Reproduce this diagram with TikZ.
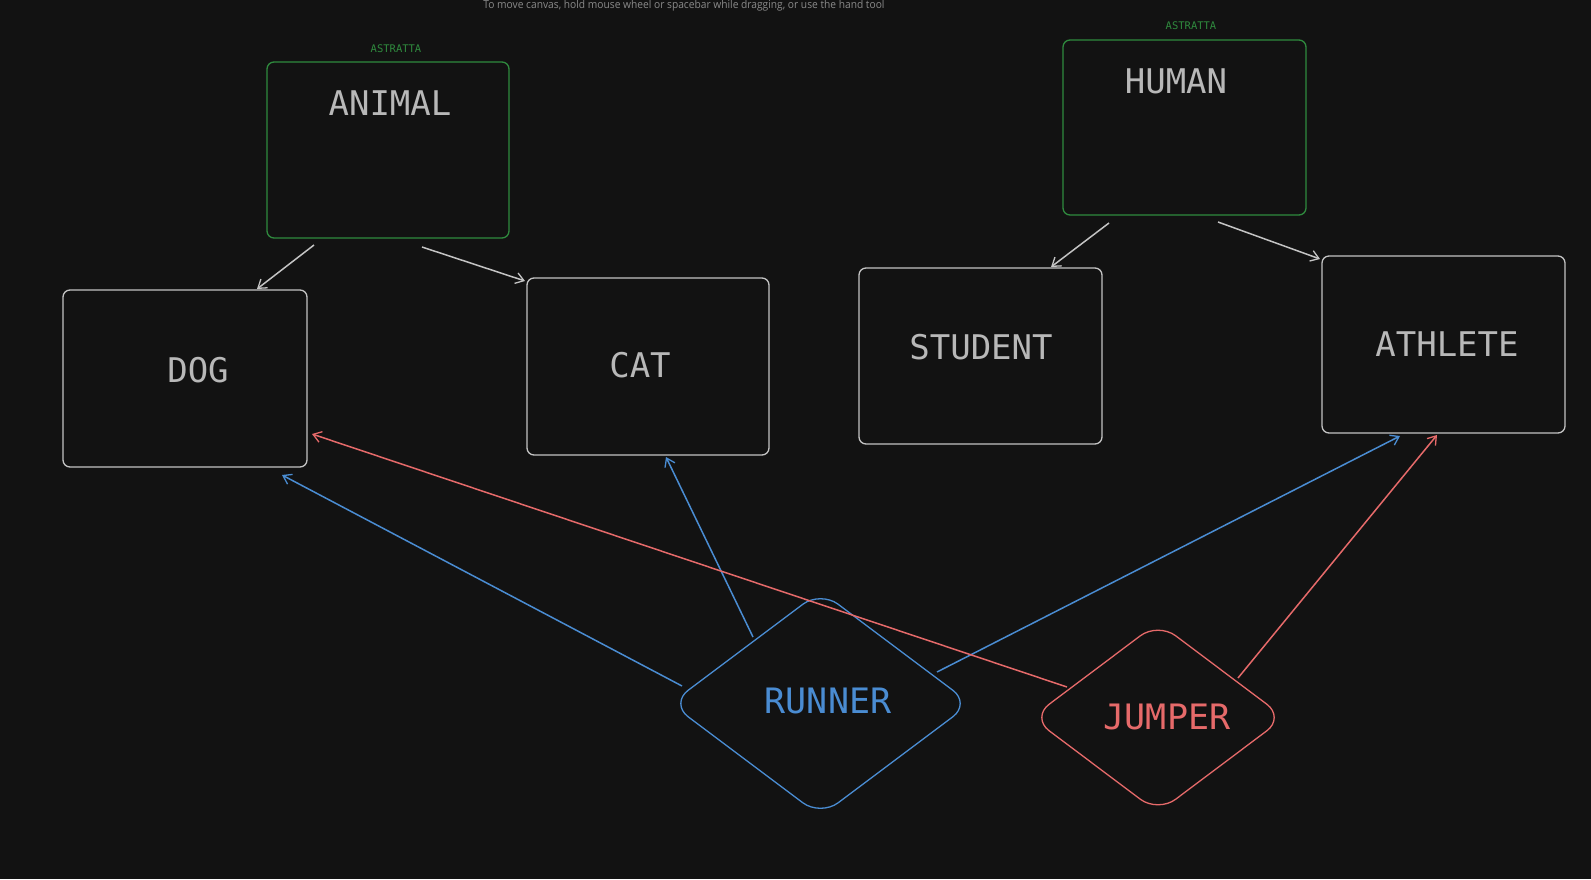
\documentclass[tikz,border=0pt]{standalone}
\usepackage{fontspec}
\newfontfamily\monofam{DejaVu Sans Mono}
\newfontfamily\hintfam{Open Sans}
\usetikzlibrary{shapes.geometric,arrows.meta}
\definecolor{bg}{HTML}{121212}
\definecolor{boxgray}{HTML}{C4C4C4}
\definecolor{txtgray}{HTML}{B8B8B8}
\definecolor{grn}{HTML}{2F8A3E}
\definecolor{blu}{HTML}{4A8CD2}
\definecolor{rd}{HTML}{E66A6A}
\definecolor{hintgray}{HTML}{8A8A8A}
\tikzset{
  box/.style={draw=boxgray, line width=1.3pt, rectangle, rounded corners=7pt, inner sep=0pt, outer sep=0pt},
  absbox/.style={box, draw=grn},
  lbl/.style={text=txtgray, font=\monofam\fontsize{34}{34}\selectfont, inner sep=0pt},
  tag/.style={text=grn, font=\monofam\fontsize{10.5}{10.5}\selectfont, inner sep=0pt},
  dia/.style={diamond, draw, line width=1.3pt, rounded corners=22pt, inner sep=0pt, outer sep=0pt},
  arr/.style={line width=1.5pt, -{Straight Barb[length=8pt,width=11pt,line width=1.3pt]}},
}
\begin{document}
\begin{tikzpicture}[x=1pt,y=-1pt]
\fill[bg] (0,0) rectangle (1591,879);
\useasboundingbox (0,0) rectangle (1591,879);

\node[text=hintgray, font=\hintfam\fontsize{11}{11}\selectfont, anchor=base, xscale=0.93, inner sep=0pt] (hint) at (684,8) {To move canvas, hold mouse wheel or spacebar while dragging, or use the hand tool};

% boxes
\node[absbox, minimum width=242pt, minimum height=176pt] (animal) at (388,150) {};
\node[absbox, minimum width=243pt, minimum height=175pt] (human) at (1184.5,127.5) {};
\node[box, minimum width=244pt, minimum height=177pt] (dog) at (185,378.5) {};
\node[box, minimum width=242pt, minimum height=177pt] (cat) at (648,366.5) {};
\node[box, minimum width=243pt, minimum height=176pt] (student) at (980.5,356) {};
\node[box, minimum width=243pt, minimum height=177pt] (athlete) at (1443.5,344.5) {};

% diamonds
\node[dia, draw=blu, minimum width=300pt, minimum height=225pt] (runner) at (820.5,703.5) {};
\node[dia, draw=rd, minimum width=253pt, minimum height=190pt] (jumper) at (1158,717.5) {};

% texts
\node[tag] (tag1) at (396,49) {ASTRATTA};
\node[tag] (tag2) at (1191,26) {ASTRATTA};
\node[lbl] (tanimal) at (390,103) {ANIMAL};
\node[lbl] (thuman) at (1176,81) {HUMAN};
\node[lbl] (tdog) at (198,370) {DOG};
\node[lbl] (tcat) at (640,365) {CAT};
\node[lbl] (tstudent) at (981,347) {STUDENT};
\node[lbl] (tathlete) at (1447,344) {ATHLETE};
\node[lbl, text=blu, font=\monofam\fontsize{35}{35}\selectfont] (trunner) at (828,701) {RUNNER};
\node[lbl, text=rd, font=\monofam\fontsize{35}{35}\selectfont] (tjumper) at (1167,717) {JUMPER};

% gray arrows
\draw[arr, boxgray] ([xshift=-74pt,yshift=-7pt]animal.south) -- ([xshift=72pt,yshift=1pt]dog.north);
\draw[arr, boxgray] ([xshift=34pt,yshift=-9pt]animal.south) -- ([xshift=-2pt,yshift=-3pt]cat.north west);
\draw[arr, boxgray] ([xshift=-75.5pt,yshift=-8pt]human.south) -- ([xshift=70.5pt,yshift=1pt]student.north);
\draw[arr, boxgray] ([xshift=33.5pt,yshift=-7pt]human.south) -- ([xshift=-2pt,yshift=-3pt]athlete.north west);

% blue arrows
\draw[arr, blu] ([xshift=-138.5pt,yshift=17.5pt]runner.center) -- ([xshift=-25pt,yshift=-8pt]dog.south east);
\draw[arr, blu] ([xshift=-67.5pt,yshift=66.5pt]runner.center) -- ([xshift=18pt,yshift=-2pt]cat.south);
\draw[arr, blu] ([xshift=116.5pt,yshift=31.5pt]runner.center) -- ([xshift=-43.5pt,yshift=-3pt]athlete.south);

% red arrows
\draw[arr, rd] ([xshift=-91pt,yshift=30.5pt]jumper.center) -- ([xshift=5pt,yshift=33pt]dog.south east);
\draw[arr, rd] ([xshift=80pt,yshift=39.5pt]jumper.center) -- ([xshift=-6.5pt,yshift=-2pt]athlete.south);
\end{tikzpicture}
\end{document}
